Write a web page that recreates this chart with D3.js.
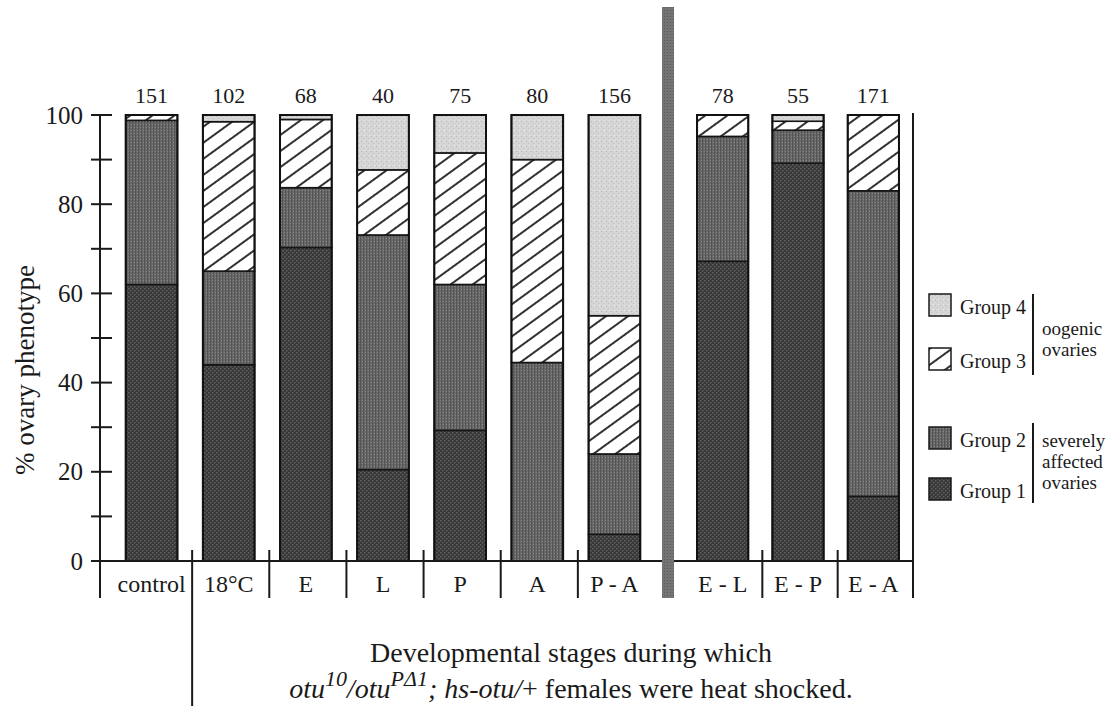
<!DOCTYPE html>
<html>
<head>
<meta charset="utf-8">
<script src="https://cdn.jsdelivr.net/npm/d3@7"></script>
<style>
  body { margin: 0; background: #fff; }
  svg { display: block; font-family: "Liberation Serif", "Times New Roman", serif; }
</style>
</head>
<body>
<svg id="chart" width="1112" height="706"></svg>
<script>
// values (percent of ovaries per group, bottom to top)
var categories = ["control", "18°C", "E", "L", "P", "A", "P - A", "E - L", "E - P", "E - A"];
var counts = [151, 102, 68, 40, 75, 80, 156, 78, 55, 171];
var group1 = [62, 44, 70.3, 20.5, 29.3, 0, 6, 67.2, 89.2, 14.5];
var group2 = [36.8, 21, 13.4, 52.6, 32.7, 44.5, 18, 28, 7.4, 68.5];
var group3 = [1.2, 33.5, 15.3, 14.6, 29.5, 45.5, 31, 4.8, 2, 17];
var group4 = [0, 1.5, 1, 12.3, 8.5, 10, 45, 0, 1.4, 0];
var yTicks = [0, 20, 40, 60, 80, 100];
var legendGroups = ["Group 4", "Group 3", "Group 2", "Group 1"];

var leftCats = categories.slice(0, 7);
var rightCats = categories.slice(7);

var svg = d3.select("svg#chart");

// ---- patterns (scanned textures)
var defs = svg.append("defs");

var p1 = defs.append("pattern").attr("id", "g1")
  .attr("patternUnits", "userSpaceOnUse").attr("width", 4).attr("height", 4);
p1.append("rect").attr("width", 4).attr("height", 4).attr("fill", "#383838");
p1.append("rect").attr("x", 0).attr("y", 0).attr("width", 1.5).attr("height", 1.5).attr("fill", "#606060");
p1.append("rect").attr("x", 2).attr("y", 2).attr("width", 1.5).attr("height", 1.5).attr("fill", "#606060");

var p2 = defs.append("pattern").attr("id", "g2")
  .attr("patternUnits", "userSpaceOnUse").attr("width", 3).attr("height", 3);
p2.append("rect").attr("width", 3).attr("height", 3).attr("fill", "#686868");
p2.append("rect").attr("x", 0).attr("width", 1).attr("height", 3).attr("fill", "#545454");
p2.append("rect").attr("x", 2).attr("y", 1).attr("width", 1).attr("height", 1).attr("fill", "#8a8a8a");

var p3 = defs.append("pattern").attr("id", "g3")
  .attr("patternUnits", "userSpaceOnUse").attr("width", 13).attr("height", 13)
  .attr("patternTransform", "rotate(54)");
p3.append("rect").attr("width", 13).attr("height", 13).attr("fill", "#fff");
p3.append("line").attr("x1", 1).attr("x2", 1).attr("y1", 0).attr("y2", 13)
  .attr("stroke", "#1a1a1a").attr("stroke-width", 1.8);

var p4 = defs.append("pattern").attr("id", "g4")
  .attr("patternUnits", "userSpaceOnUse").attr("width", 5).attr("height", 5);
p4.append("rect").attr("width", 5).attr("height", 5).attr("fill", "#d6d6d6");
p4.append("rect").attr("x", 1).attr("y", 1).attr("width", 1).attr("height", 1).attr("fill", "#b6b6b6");
p4.append("rect").attr("x", 3).attr("y", 3).attr("width", 1).attr("height", 1).attr("fill", "#c2c2c2");
p4.append("rect").attr("x", 4).attr("y", 0).attr("width", 1).attr("height", 1).attr("fill", "#ececec");

var pd = defs.append("pattern").attr("id", "div")
  .attr("patternUnits", "userSpaceOnUse").attr("width", 3).attr("height", 3);
pd.append("rect").attr("width", 3).attr("height", 3).attr("fill", "#747474");
pd.append("rect").attr("x", 1).attr("y", 1).attr("width", 1).attr("height", 1).attr("fill", "#5a5a5a");

var fills = { g1: "url(#g1)", g2: "url(#g2)", g3: "url(#g3)", g4: "url(#g4)" };

// ---- scales
var y = d3.scaleLinear().domain([0, 100]).range([561, 115]);

var xLeft = d3.scaleBand().domain(leftCats).range([113, 653])
  .paddingInner(0.33).paddingOuter(0.165);
var xRight = d3.scaleBand().domain(rightCats).range([685, 911])
  .paddingInner(0.32).paddingOuter(0.16);

function xOf(c) { return leftCats.indexOf(c) >= 0 ? xLeft(c) : xRight(c); }
function bw(c) { return leftCats.indexOf(c) >= 0 ? xLeft.bandwidth() : xRight.bandwidth(); }
function cx(c) { return xOf(c) + bw(c) / 2; }

// ---- stacked data
var rows = categories.map(function (c, i) {
  return { cat: c, g1: group1[i], g2: group2[i], g3: group3[i], g4: group4[i] };
});
var series = d3.stack().keys(["g1", "g2", "g3", "g4"])(rows);

// bars
var layers = svg.append("g").selectAll("g")
  .data(series)
  .enter()
  .append("g")
  .attr("fill", function (d) { return fills[d.key]; });

layers.selectAll("rect")
  .data(function (d) { return d.filter(function (s) { return s[1] - s[0] > 0; }); })
  .enter()
  .append("rect")
  .attr("x", function (d) { return xOf(d.data.cat); })
  .attr("width", function (d) { return bw(d.data.cat); })
  .attr("y", function (d) { return y(d[1]); })
  .attr("height", function (d) { return y(d[0]) - y(d[1]); })
  .attr("stroke", "#151515")
  .attr("stroke-width", 1.6);

// bar outlines
svg.append("g").selectAll("rect")
  .data(categories)
  .enter()
  .append("rect")
  .attr("x", function (d) { return xOf(d); })
  .attr("width", function (d) { return bw(d); })
  .attr("y", y(100))
  .attr("height", y(0) - y(100))
  .attr("fill", "none")
  .attr("stroke", "#111")
  .attr("stroke-width", 2);

// n above each bar
svg.append("g").selectAll("text")
  .data(categories)
  .enter()
  .append("text")
  .attr("x", function (d) { return cx(d); })
  .attr("y", 103)
  .attr("text-anchor", "middle")
  .attr("font-size", 22)
  .attr("fill", "#1a1a1a")
  .text(function (d, i) { return counts[i]; });

// ---- y axis
var yAxis = d3.axisLeft(y).tickValues(yTicks).tickSize(0).tickPadding(17);
var ga = svg.append("g").attr("transform", "translate(100,0)").call(yAxis);
ga.select(".domain").remove();
ga.selectAll("text").attr("font-size", 25).attr("fill", "#1a1a1a")
  .attr("font-family", "Liberation Serif, Times New Roman, serif");

svg.append("line").attr("x1", 100).attr("x2", 100).attr("y1", y(100)).attr("y2", 598)
  .attr("stroke", "#1a1a1a").attr("stroke-width", 2);
svg.append("g").selectAll("line")
  .data(d3.range(0, 101, 10))
  .enter()
  .append("line")
  .attr("x1", 91).attr("x2", 112)
  .attr("y1", function (d) { return y(d); })
  .attr("y2", function (d) { return y(d); })
  .attr("stroke", "#1a1a1a").attr("stroke-width", 2);

// baseline and right frame line
svg.append("line").attr("x1", 91).attr("x2", 913).attr("y1", y(0)).attr("y2", y(0))
  .attr("stroke", "#1a1a1a").attr("stroke-width", 2);
svg.append("line").attr("x1", 913).attr("x2", 913).attr("y1", y(100) - 2).attr("y2", 598)
  .attr("stroke", "#1a1a1a").attr("stroke-width", 2);

// category separators (between bars)
var seps = [];
[leftCats, rightCats].forEach(function (grp) {
  for (var i = 1; i < grp.length; i++) {
    seps.push({ x: (cx(grp[i - 1]) + cx(grp[i])) / 2 + 2, long: grp[i - 1] === "control" });
  }
});
svg.append("g").selectAll("line")
  .data(seps)
  .enter()
  .append("line")
  .attr("x1", function (d) { return d.x; })
  .attr("x2", function (d) { return d.x; })
  .attr("y1", 550)
  .attr("y2", function (d) { return d.long ? 706 : 598; })
  .attr("stroke", "#1a1a1a").attr("stroke-width", 2);

// category labels
svg.append("g").selectAll("text")
  .data(categories)
  .enter()
  .append("text")
  .attr("x", function (d) { return cx(d); })
  .attr("y", 592)
  .attr("text-anchor", "middle")
  .attr("font-size", 24)
  .attr("fill", "#1a1a1a")
  .text(function (d) { return d; });

// gray divider between single and extended heat shocks
svg.append("rect").attr("x", 662).attr("width", 12).attr("y", 7).attr("height", 591)
  .attr("fill", "url(#div)");

// ---- y title
svg.append("text")
  .attr("transform", "translate(34,370) rotate(-90)")
  .attr("text-anchor", "middle")
  .attr("font-size", 27)
  .attr("fill", "#1a1a1a")
  .text("% ovary phenotype");

// ---- caption
var cap = svg.append("g").attr("fill", "#1a1a1a").attr("font-size", 28);
cap.append("text").attr("x", 571).attr("y", 662).attr("text-anchor", "middle")
  .text("Developmental stages during which");
var t2 = cap.append("text").attr("x", 571).attr("y", 698).attr("text-anchor", "middle");
t2.append("tspan").attr("font-style", "italic").text("otu");
t2.append("tspan").attr("font-style", "italic").attr("font-size", 22).attr("dy", -12).text("10");
t2.append("tspan").attr("font-style", "italic").attr("dy", 12).text("/otu");
t2.append("tspan").attr("font-style", "italic").attr("font-size", 22).attr("dy", -12).text("PΔ1");
t2.append("tspan").attr("font-style", "italic").attr("dy", 12).text("; hs-otu/");
t2.append("tspan").text("+ females were heat shocked.");

// ---- legend
var legY = [294, 348, 427, 478];
var legFill = ["url(#g4)", "url(#g3)", "url(#g2)", "url(#g1)"];
var leg = svg.append("g").selectAll("g")
  .data(legendGroups)
  .enter()
  .append("g")
  .attr("transform", function (d, i) { return "translate(929," + legY[i] + ")"; });
leg.append("rect").attr("width", 22).attr("height", 22)
  .attr("fill", function (d, i) { return legFill[i]; })
  .attr("stroke", "#1a1a1a").attr("stroke-width", 1.5);
leg.append("text").attr("x", 31).attr("y", 20).attr("font-size", 20).attr("fill", "#1a1a1a")
  .text(function (d) { return d; });

var brackets = [
  { y1: 294, y2: 375, lines: ["oogenic", "ovaries"], ty: 335 },
  { y1: 423, y2: 503, lines: ["severely", "affected", "ovaries"], ty: 447 }
];
brackets.forEach(function (b) {
  svg.append("line").attr("x1", 1033).attr("x2", 1033).attr("y1", b.y1).attr("y2", b.y2)
    .attr("stroke", "#1a1a1a").attr("stroke-width", 2);
  svg.append("g").selectAll("text")
    .data(b.lines)
    .enter()
    .append("text")
    .attr("x", 1042)
    .attr("y", function (d, i) { return b.ty + i * 21; })
    .attr("font-size", 19)
    .attr("fill", "#1a1a1a")
    .text(function (d) { return d; });
});
</script>
</body>
</html>
